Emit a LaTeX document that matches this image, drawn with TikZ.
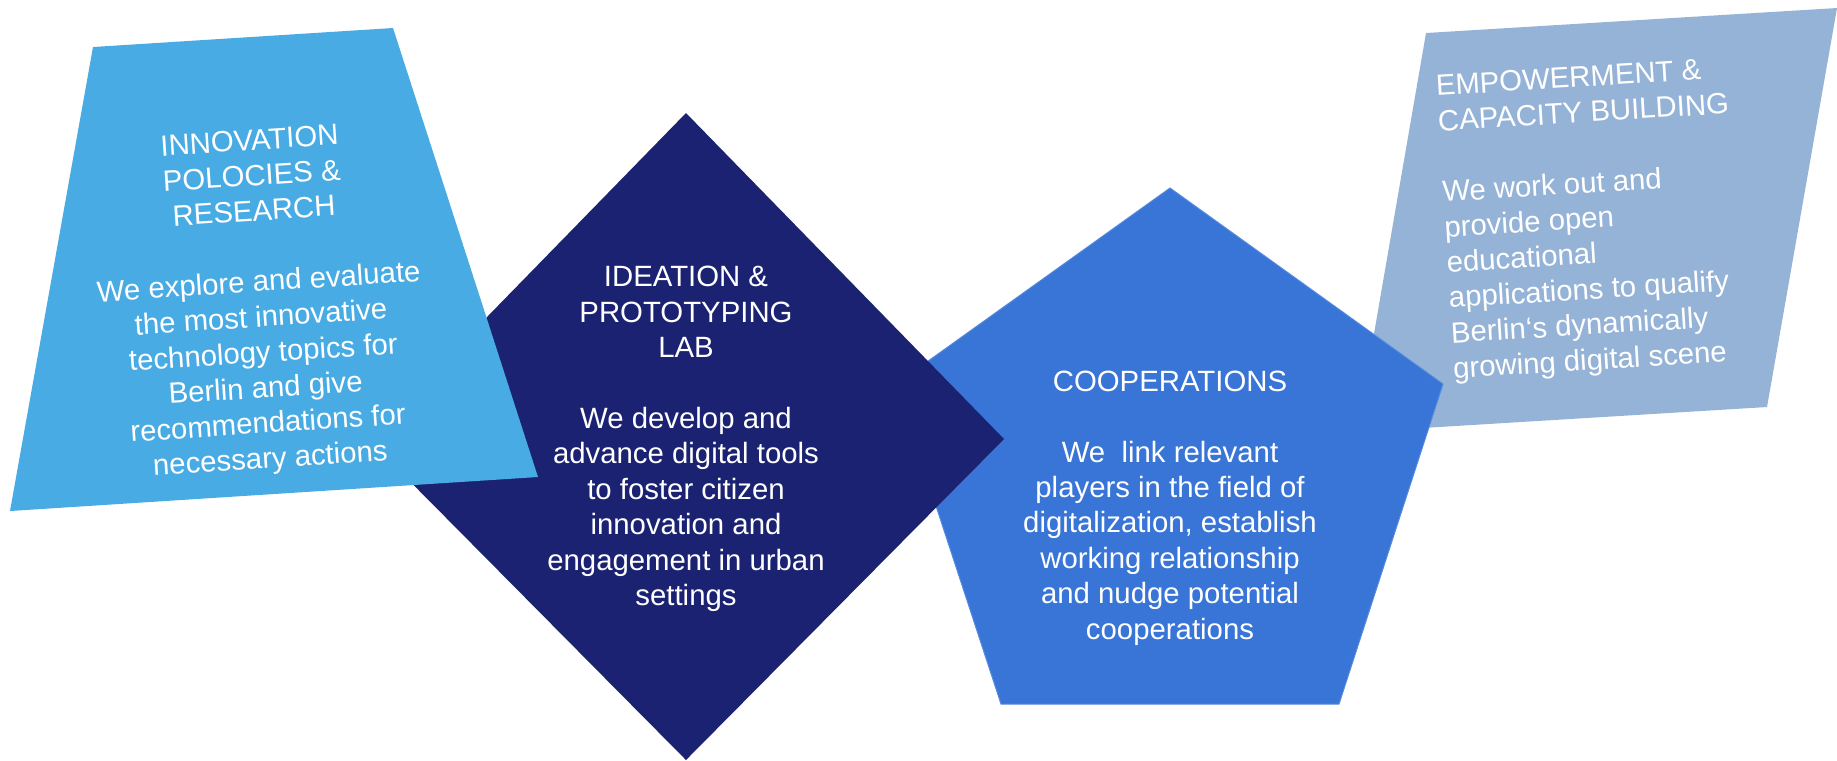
\documentclass[tikz,border=0pt]{standalone}
\usepackage{fontspec}
\setmainfont{Liberation Sans}
\usetikzlibrary{positioning}

\definecolor{skyblue}{RGB}{72,171,228}
\definecolor{navyblue}{RGB}{27,34,114}
\definecolor{coopblue}{RGB}{56,117,215}
\definecolor{greyblue}{RGB}{149,179,215}

\begin{document}
\begin{tikzpicture}[x=0.1mm, y=-0.1mm]

				\tikzstyle{txt} = [text=white, font=\fontsize{8.35}{10.07}\selectfont, inner sep=0pt]
				\tikzstyle{block} = [txt, align=center]
				\tikzstyle{leftblock} = [txt, align=left, anchor=west]

				\useasboundingbox (0,0) rectangle (1837,760);

				% Shapes, back to front
				\fill [greyblue] (1426,33) -- (1837,8) -- (1767,407) -- (1357,432) -- cycle;
				\filldraw [fill=coopblue, draw=coopblue!85!white, line width=0.1mm] (1170,188) -- (1443,384) -- (1339,704) -- (1001,704) -- (896,384) -- cycle;
				\fill [navyblue] (686,113) -- (1004,439) -- (686,760) -- (368,439) -- cycle;
				\fill [skyblue] (93,47) -- (393,28) -- (538,477) -- (10,511) -- cycle;

				% Place nodes
				\node [block, rotate=3.75] (innovation) at (260,302) {INNOVATION\\POLOCIES \&\\RESEARCH\\[10.07pt]We explore and evaluate\\the most innovative\\technology topics for\\Berlin and give\\recommendations for\\necessary actions};
				\node [block] (ideation) at (686,439) {IDEATION \&\\PROTOTYPING\\LAB\\[10.07pt]We develop and\\advance digital tools\\to foster citizen\\innovation and\\engagement in urban\\settings};
				\node [block] (cooperations) at (1170,508) {COOPERATIONS\\[10.07pt]We\ \ link relevant\\players in the field of\\digitalization, establish\\working relationship\\and nudge potential\\cooperations};
				\node [leftblock, rotate=3.5] (empowerment) at (1444,230) {EMPOWERMENT \&\\CAPACITY BUILDING\\[10.07pt]We work out and\\provide open\\educational\\applications to qualify\\Berlin‘s dynamically\\growing digital scene};

\end{tikzpicture}
\end{document}
